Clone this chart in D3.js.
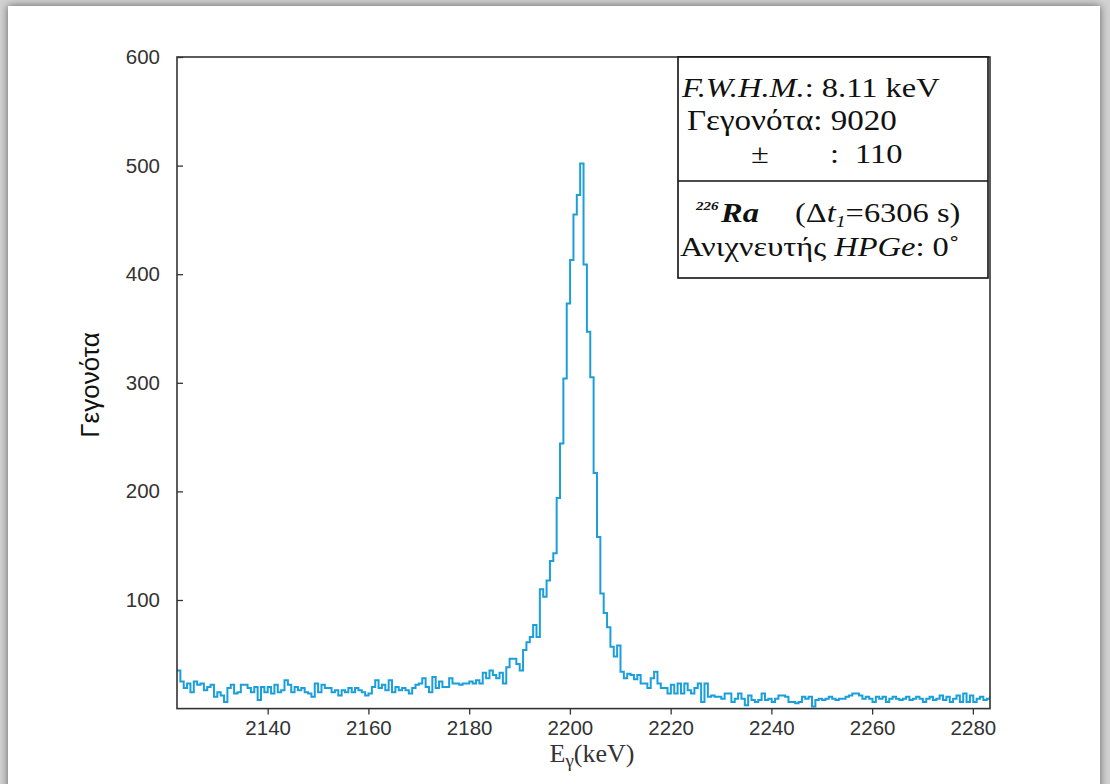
<!DOCTYPE html>
<html><head><meta charset="utf-8">
<script src="https://cdn.jsdelivr.net/npm/d3@7"></script>
<style>
html,body{margin:0;padding:0;background:#d6d6d6;}
svg{display:block;}
</style></head><body>
<svg id="chart" width="1110" height="784"></svg>
<script>
// ---- data ----
const energyStart = 2122;      // keV, lower edge of first bin
const binWidth = 0.667;        // keV per bin
const counts = [
  35,25,19,23,15,25,22,23,17,20, 22,11,15,12,6,19,22,14,15,22,
  22,19,15,20,8,20,15,20,14,22, 15,17,26,22,15,20,17,19,15,14,
  11,23,15,22,19,19,15,17,12,17, 15,19,15,19,17,15,12,14,20,26,
  19,22,17,26,15,20,17,19,17,14, 19,22,23,28,20,15,29,19,25,20,
  20,28,23,23,22,23,23,25,23,26, 23,33,28,35,31,28,33,23,38,46,
  46,41,35,54,61,66,77,66,110,103, 118,136,143,194,244,304,373,413,455,473,
  502,409,347,305,217,158,106,88,75,57, 48,58,34,28,32,31,27,31,23,23,
  19,28,34,23,19,19,14,22,14,23, 14,23,17,14,19,23,6,23,11,12,
  11,11,9,14,14,6,9,14,9,3, 12,8,6,8,14,8,9,6,9,12,
  12,11,6,6,5,6,11,9,11,2, 8,9,8,9,11,9,8,9,9,11,
  12,14,14,12,9,11,9,6,11,9, 11,6,9,11,9,8,9,11,8,9,
  11,9,6,9,11,8,9,12,8,11, 6,9,12,6,14,6,12,6,9,11,
  8,9,11
];
const xTicks = [2140,2160,2180,2200,2220,2240,2260,2280];
const yTicks = [100,200,300,400,500,600];
const xDomain = [2122, 2283.4];
const yDomain = [0, 600];

// ---- layout ----
const W = 1110, H = 784;
const plot = {left:177, right:990, top:57, bottom:708.6};
const svg = d3.select("#chart");
const defs = svg.append("defs");
const f = defs.append("filter").attr("id","sh").attr("x","-5%").attr("y","-5%").attr("width","110%").attr("height","110%");
f.append("feDropShadow").attr("dx",0).attr("dy",0).attr("stdDeviation",4).attr("flood-color","#000").attr("flood-opacity",0.55);
defs.append("clipPath").attr("id","clip").append("rect")
  .attr("x",plot.left).attr("y",plot.top).attr("width",plot.right-plot.left).attr("height",plot.bottom-plot.top);

svg.append("rect").attr("x",0).attr("y",0).attr("width",W).attr("height",H).attr("fill","#d2d2d2");
svg.append("rect").attr("x",8).attr("y",6).attr("width",1092).attr("height",820)
  .attr("fill","#fff").attr("filter","url(#sh)");

const x = d3.scaleLinear().domain(xDomain).range([plot.left, plot.right]);
const y = d3.scaleLinear().domain(yDomain).range([plot.bottom, plot.top]);

const sans = "'Liberation Sans', Arial, Helvetica, sans-serif";
const serif = "'Liberation Serif', 'Times New Roman', Times, serif";
const axisColor = "#333";

// histogram
const pts = counts.map((c,i)=>[energyStart + i*binWidth, c]);
pts.push([energyStart + counts.length*binWidth, counts[counts.length-1]]);
const line = d3.line().x(d=>x(d[0])).y(d=>y(d[1])).curve(d3.curveStepAfter);
svg.append("path").attr("d", line(pts)).attr("clip-path","url(#clip)")
  .attr("fill","none").attr("stroke","#1a9fdb").attr("stroke-width",2).attr("stroke-linejoin","miter");

// axes
const xAxis = d3.axisBottom(x).tickValues(xTicks).tickSize(6).tickPadding(4).tickFormat(d3.format("d"));
const gx = svg.append("g").attr("transform",`translate(0,${plot.bottom})`).call(xAxis);
const yAxis = d3.axisLeft(y).tickValues(yTicks).tickSize(-6).tickPadding(17).tickFormat(d3.format("d"));
const gy = svg.append("g").attr("transform",`translate(${plot.left},0)`).call(yAxis);
[gx,gy].forEach(g=>{
  g.select(".domain").remove();
  g.selectAll(".tick line").attr("stroke",axisColor).attr("stroke-width",1.3);
  g.selectAll(".tick text").attr("fill","#333").style("font-family",sans).style("font-size","20.5px");
});
gx.selectAll(".tick text").attr("dy","0.78em");
// frame
svg.append("rect").attr("x",plot.left).attr("y",plot.top).attr("width",plot.right-plot.left).attr("height",plot.bottom-plot.top)
  .attr("fill","none").attr("stroke",axisColor).attr("stroke-width",1.6);

// axis titles
const xt = svg.append("text").attr("x",592).attr("y",762).attr("text-anchor","middle")
  .style("font-family",serif).style("font-size","26px").attr("fill","#333");
xt.append("tspan").text("E");
xt.append("tspan").attr("dy",5).style("font-size","19px").text("γ");
xt.append("tspan").attr("dy",-5).text("(keV)");

svg.append("text").attr("transform","translate(99,385) rotate(-90)").attr("text-anchor","middle")
  .style("font-family",sans).style("font-size","26px").attr("fill","#111").text("Γεγονότα");

// legend box
const leg = svg.append("g");
leg.append("rect").attr("x",678).attr("y",57).attr("width",310).attr("height",221)
  .attr("fill","#fff").attr("stroke","#111").attr("stroke-width",1.6);
leg.append("line").attr("x1",678).attr("x2",988).attr("y1",181).attr("y2",181).attr("stroke","#111").attr("stroke-width",1.6);
const fs = "28px", sx = 1.16;
function ltext(px, py){
  return leg.append("g").attr("transform",`translate(${px},${py}) scale(${sx},1)`)
    .append("text").attr("x",0).attr("y",0).style("font-family",serif).style("font-size",fs).attr("fill","#111");
}
const t1 = ltext(682,97);
t1.append("tspan").style("font-style","italic").text("F.W.H.M.");
t1.append("tspan").text(": 8.11 keV");
ltext(687,130).style("font-size","28.5px").text("Γεγονότα: 9020");
ltext(751,163).text("±");
ltext(830,163).text(":");
ltext(855,163).text("110");
ltext(696,210).style("font-size","13px").style("font-weight","bold").style("font-style","italic").text("226");
ltext(721,222).style("font-weight","bold").style("font-style","italic").text("Ra");
const t4b = ltext(795,222);
t4b.append("tspan").text("(Δ");
t4b.append("tspan").style("font-style","italic").text("t");
t4b.append("tspan").attr("dy",5).style("font-style","italic").style("font-size","17px").text("1");
t4b.append("tspan").attr("dy",-5).text("=6306 s)");
const t5 = ltext(680,256);
t5.append("tspan").text("Ανιχνευτής ");
t5.append("tspan").style("font-style","italic").text("HPGe");
t5.append("tspan").text(": 0˚");
</script>
</body></html>
